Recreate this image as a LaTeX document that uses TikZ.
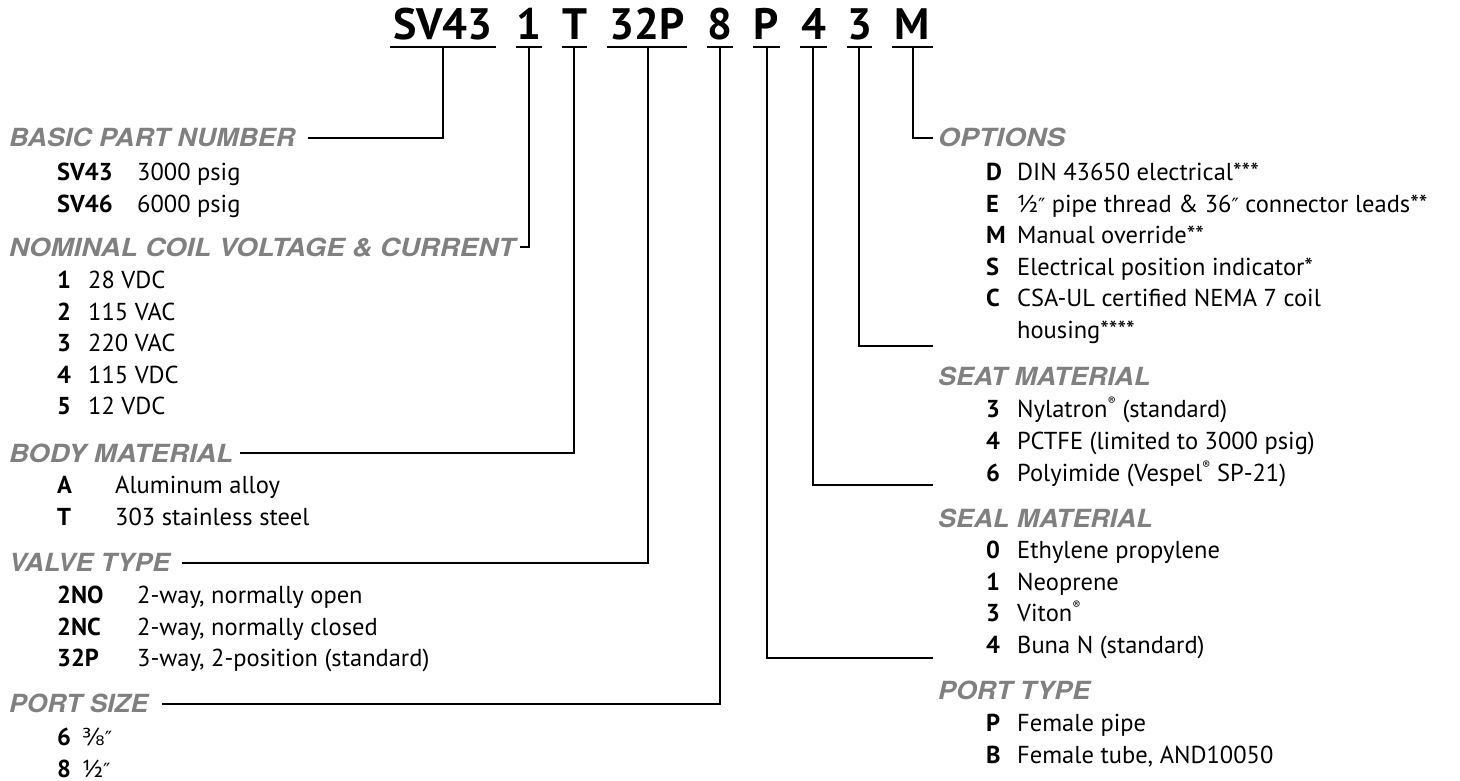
\documentclass[tikz,border=0pt]{standalone}
\usepackage{fontspec}
\usepackage{graphicx}
\setmainfont{PT Sans}
\newfontfamily\djv{DejaVu Sans}
\newfontfamily\hfont{TeX Gyre Heros}
\definecolor{headgray}{RGB}{128,128,128}
\newcommand\dpr{{\djv\scalebox{0.8}{″}}}
\newcommand\thr{{\djv\scalebox{0.95}{⅜}}}
\newcommand\regm{\raisebox{0.5em}{\fontsize{12}{12}\selectfont ®}}
\newcommand\hw[2]{\resizebox{#1pt}{\height}{#2}}
\begin{document}
\begin{tikzpicture}[x=1pt,y=-1pt,
  head/.style={anchor=base west,inner sep=0pt,text=headgray,font=\hfont\fontsize{25}{25}\selectfont\bfseries\itshape},
  code/.style={anchor=base west,inner sep=0pt,font=\fontsize{24.5}{24.5}\selectfont\bfseries},
  desc/.style={anchor=base west,inner sep=0pt,font=\fontsize{24.5}{24.5}\selectfont},
  ttl/.style={anchor=base,inner sep=0pt,font=\fontsize{44}{44}\selectfont\bfseries},
  uline/.style={line width=2.4pt},
  link/.style={line width=1.8pt,line join=miter}]
\useasboundingbox (0,0) rectangle (1460,781);
% title
\node[ttl] (tSV) at (443,40) {SV43};
\node[ttl] (t1) at (529,40) {1};
\node[ttl] (tT) at (574.5,40) {T};
\node[ttl] (t32) at (647,40) {32P};
\node[ttl] (t8) at (720,40) {8};
\node[ttl] (tP) at (766.5,40) {P};
\node[ttl] (t4) at (813.5,40) {4};
\node[ttl] (t3) at (859.5,40) {3};
\node[ttl] (tM) at (912.5,40) {M};
\draw[uline] (390,47) -- (496,47);
\draw[uline] (516,47) -- (542,47);
\draw[uline] (562,47) -- (587,47);
\draw[uline] (607,47) -- (687,47);
\draw[uline] (707,47) -- (733,47);
\draw[uline] (753,47) -- (780,47);
\draw[uline] (800,47) -- (827,47);
\draw[uline] (847,47) -- (872,47);
\draw[uline] (892,47) -- (933,47);
\coordinate (uSV) at (443,47);
\coordinate (u1) at (529,47);
\coordinate (uT) at (574,47);
\coordinate (u32) at (648,47);
\coordinate (u8) at (720,47);
\coordinate (uP) at (767,47);
\coordinate (u4) at (813,47);
\coordinate (u3) at (859,47);
\coordinate (uM) at (913,47);
% left column
\node[head] (hBasic) at (9,147) {\hw{286}{BASIC PART NUMBER}};
\node[code] at (57,180.5) {SV43}; \node[desc] at (137,180.5) {3000 psig};
\node[code] at (57,212) {SV46}; \node[desc] at (137,212) {6000 psig};
\node[head] (hNom) at (9,256) {\hw{506}{NOMINAL COIL VOLTAGE \& CURRENT}};
\node[code] at (57,288.5) {1}; \node[desc] at (88,288.5) {28 VDC};
\node[code] at (57,320) {2}; \node[desc] at (88,320) {115 VAC};
\node[code] at (57,351.5) {3}; \node[desc] at (88,351.5) {220 VAC};
\node[code] at (57,383) {4}; \node[desc] at (88,383) {115 VDC};
\node[code] at (57,414.5) {5}; \node[desc] at (88,414.5) {12 VDC};
\node[head] (hBody) at (9,462) {\hw{224}{BODY MATERIAL}};
\node[code] at (57,493.5) {A}; \node[desc] at (115,493.5) {Aluminum alloy};
\node[code] at (57,525) {T}; \node[desc] at (115,525) {303 stainless steel};
\node[head] (hValve) at (9,571) {\hw{161}{VALVE TYPE}};
\node[code] at (57,603.5) {2NO}; \node[desc] at (137,603.5) {2-way, normally open};
\node[code] at (57,635) {2NC}; \node[desc] at (137,635) {2-way, normally closed};
\node[code] at (57,666.5) {32P}; \node[desc] at (137,666.5) {3-way, 2-position (standard)};
\node[head] (hPort) at (9,712) {\hw{139}{PORT SIZE}};
\node[code] at (57,745.5) {6}; \node[desc] at (82,745.5) {\thr\dpr};
\node[code] at (57,777) {8}; \node[desc] at (82,777) {½\dpr};
% right column
\node[head] (hOpt) at (938,147) {\hw{127}{OPTIONS}};
\node[code] at (986,180.5) {D}; \node[desc] at (1017,180.5) {DIN 43650 electrical***};
\node[code] at (986,212) {E}; \node[desc] at (1017,212) {½\dpr{} pipe thread \& 36\dpr{} connector leads**};
\node[code] at (986,243.5) {M}; \node[desc] at (1017,243.5) {Manual override**};
\node[code] at (986,275) {S}; \node[desc] at (1017,275) {Electrical position indicator*};
\node[code] at (986,306.5) {C}; \node[desc] at (1017,306.5) {CSA-UL certified NEMA 7 coil};
\node[desc] at (1017,338) {housing****};
\node[head] (hSeat) at (938,385) {\scalebox{1.07}[1]{SEAT MATERIAL}};
\node[code] at (986,417.5) {3}; \node[desc] at (1017,417.5) {Nylatron\regm{} (standard)};
\node[code] at (986,449.5) {4}; \node[desc] at (1017,449.5) {PCTFE (limited to 3000 psig)};
\node[code] at (986,481.5) {6}; \node[desc] at (1017,481.5) {Polyimide (Vespel\regm{} SP-21)};
\node[head] (hSeal) at (938,527) {\scalebox{1.07}[1]{SEAL MATERIAL}};
\node[code] at (986,558.5) {0}; \node[desc] at (1017,558.5) {Ethylene propylene};
\node[code] at (986,590) {1}; \node[desc] at (1017,590) {Neoprene};
\node[code] at (986,621.5) {3}; \node[desc] at (1017,621.5) {Viton\regm};
\node[code] at (986,653.5) {4}; \node[desc] at (1017,653.5) {Buna N (standard)};
\node[head] (hPT) at (938,699) {\hw{152}{PORT TYPE}};
\node[code] at (986,731.5) {P}; \node[desc] at (1017,731.5) {Female pipe};
\node[code] at (986,763.5) {B}; \node[desc] at (1017,763.5) {Female tube, AND10050};
% connectors
\coordinate (eBasic) at (308,138);
\coordinate (eNom) at (520,247);
\coordinate (eBody) at (240,453);
\coordinate (eValve) at (182,563);
\coordinate (ePort) at (162,704);
\coordinate (eM) at (933,138);
\coordinate (e3) at (933,346);
\coordinate (e4) at (933,485);
\coordinate (eP) at (933,658);
\draw[link] (uSV) |- (eBasic);
\draw[link] (u1) |- (eNom);
\draw[link] (uT) |- (eBody);
\draw[link] (u32) |- (eValve);
\draw[link] (u8) |- (ePort);
\draw[link] (uM) |- (eM);
\draw[link] (u3) |- (e3);
\draw[link] (u4) |- (e4);
\draw[link] (uP) |- (eP);
\end{tikzpicture}
\end{document}
